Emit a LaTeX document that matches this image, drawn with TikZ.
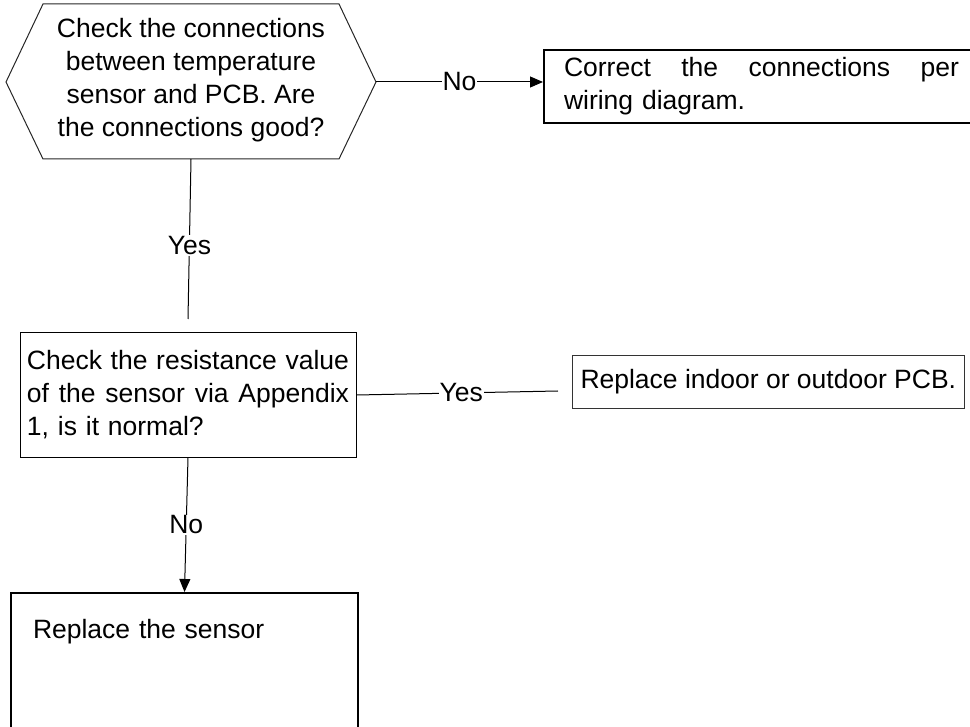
\documentclass[tikz,border=0pt]{standalone}
\usepackage{fontspec}
\setmainfont{Liberation Sans}
\usetikzlibrary{arrows.meta}

% a line spread evenly over a given width
\newcommand{\spreadline}[2]{\leavevmode\hbox to #1{#2}}

\begin{document}
\begin{tikzpicture}[x=1pt,y=-1pt,
  font=\fontsize{26.5}{33}\selectfont,
  box/.style={draw=black, line width=1pt},
  heavybox/.style={draw=black, line width=2pt},
  lbl/.style={fill=white, inner sep=1pt},
  link/.style={draw=black, line width=1pt},
  tip/.style={-{Triangle[length=13pt,width=11pt]}}
]
\useasboundingbox (0,0) rectangle (970,727);
\clip (0,0) rectangle (970,727);

% decision: connections check (hexagon)
\draw[line width=1pt, black!85]
  (43,4) -- (339,4) -- (376,82) -- (339,159) -- (43,159) -- (6,82) -- cycle;
\node[align=center] (q1) at (191,80)
  {Check the connections\\between temperature\\sensor and PCB. Are\\the connections good?};
\coordinate (q1e) at (376,82);
\coordinate (q1s) at (191,159);

% action: fix wiring (box runs past the right edge)
\node[heavybox, anchor=north west, minimum width=446, minimum height=73,
      text width=424pt, inner xsep=5, align=left] (fix) at (543,49)
  {\hspace*{9pt}\spreadline{395pt}{Correct\hfill the\hfill connections\hfill per}\hfill\\
   \hspace*{9pt}wiring diagram.};

% decision: resistance check
\node[box, text width=322pt, inner xsep=7, minimum height=124, align=left] (res) at (188,395)
  {\spreadline{322pt}{Check\hfill the\hfill resistance\hfill value}\\
   \spreadline{322pt}{of\hfill the\hfill sensor\hfill via\hfill Appendix}\\
   1, is it normal?};

% action: replace PCB
\node[box, draw=black!80, anchor=north west, minimum width=391, minimum height=53,
      inner xsep=8] (pcb) at (572,355) {Replace indoor or outdoor PCB.};

% action: replace sensor (box runs past the lower edge)
\node[heavybox, anchor=north west, text width=303pt, inner xsep=22, align=left,
      text height=19pt, text depth=110pt, inner ysep=26] (sens) at (10,592)
  {Replace the sensor};

% connectors
\coordinate (yesdown) at (188,319);
\coordinate (yesend) at (558,391);

\draw[link, tip] (q1e) -- node[lbl]{No} (q1e -| fix.west);
\draw[link] (q1s) -- node[lbl, pos=0.54]{Yes} (yesdown);
\draw[link] (res.east) -- node[lbl, pos=0.52]{Yes} (yesend);
\draw[link, tip] (res.south) -- node[lbl]{No} (sens.north);
\end{tikzpicture}
\end{document}
